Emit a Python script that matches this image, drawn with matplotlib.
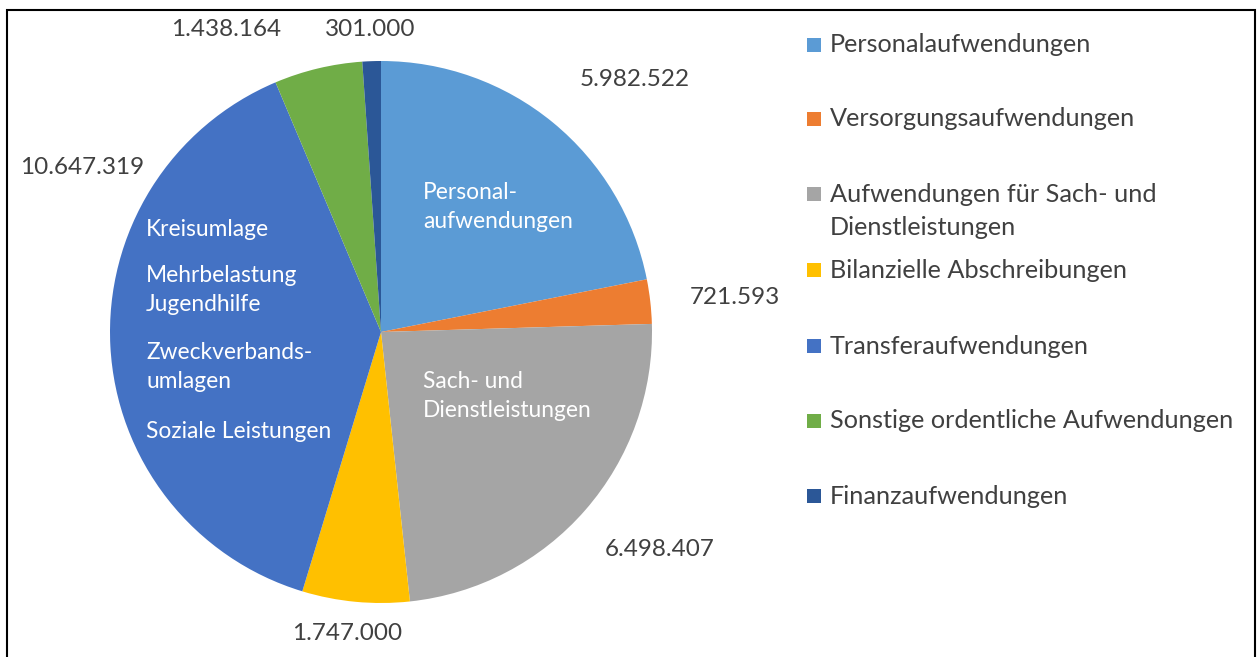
import matplotlib
matplotlib.use("Agg")
import matplotlib.pyplot as plt
from matplotlib.patches import Rectangle

W, H = 1258, 657

# data
categories = ["Personalaufwendungen", "Versorgungsaufwendungen",
              "Aufwendungen für Sach- und\nDienstleistungen", "Bilanzielle Abschreibungen",
              "Transferaufwendungen", "Sonstige ordentliche Aufwendungen", "Finanzaufwendungen"]
values = [5982522, 721593, 6498407, 1747000, 10647319, 1438164, 301000]
colors = ["#5B9BD5", "#ED7D31", "#A5A5A5", "#FFC000", "#4472C4", "#70AD47", "#2B5797"]

plt.rcParams['font.family'] = ['Lato', 'DejaVu Sans']
txt = "#404040"

fig = plt.figure(figsize=(W / 100, H / 100), dpi=100)

def fx(px):
    return px / W

def fy(py):
    return 1 - py / H

# pie: centre (381, 332), radius 271 px
r = 271
ax = fig.add_axes([fx(381 - r), fy(332 + r), 2 * r / W, 2 * r / H])
ax.pie(values, colors=colors, startangle=90, counterclock=False,
       wedgeprops=dict(linewidth=0, edgecolor='none'))
ax.set_xlim(-1, 1)
ax.set_ylim(-1, 1)
ax.axis('off')

# value labels
label_pos = [(635, 80), (735, 297), (660, 550), (347, 633), (82, 168), (226, 30), (370, 30)]
for v, (px, py) in zip(values, label_pos):
    s = f"{v:,}".replace(",", ".")
    fig.text(fx(px), fy(py), s, ha='center', va='center', fontsize=17.5, color=txt)

# labels inside the slices
inner = [(423, 207, "Personal-\naufwendungen"),
         (423, 396, "Sach- und\nDienstleistungen"),
         (146, 229, "Kreisumlage"),
         (146, 290, "Mehrbelastung\nJugendhilfe"),
         (146, 367, "Zweckverbands-\numlagen"),
         (146, 432, "Soziale Leistungen")]
for px, py, s in inner:
    fig.text(fx(px), fy(py), s, ha='left', va='center', fontsize=16.4,
             color='white', linespacing=1.46)

# legend, drawn by hand
leg_y = [45, 119, 211, 270, 346, 421, 496]
for c, lab, y in zip(colors, categories, leg_y):
    first = y if "\n" not in lab else y - 17
    fig.patches.append(Rectangle((fx(807), fy(first + 7)), 14 / W, 14 / H,
                                 transform=fig.transFigure, facecolor=c, edgecolor='none'))
    fig.text(fx(830), fy(y), lab, ha='left', va='center', fontsize=18.2,
             color=txt, linespacing=1.56)

# outer frame
fig.patches.append(Rectangle((fx(7), -0.02), (1255 - 7) / W, fy(10) + 0.02,
                             transform=fig.transFigure, fill=False,
                             edgecolor='black', linewidth=1.5))

fig.savefig("out.png", dpi=100)
